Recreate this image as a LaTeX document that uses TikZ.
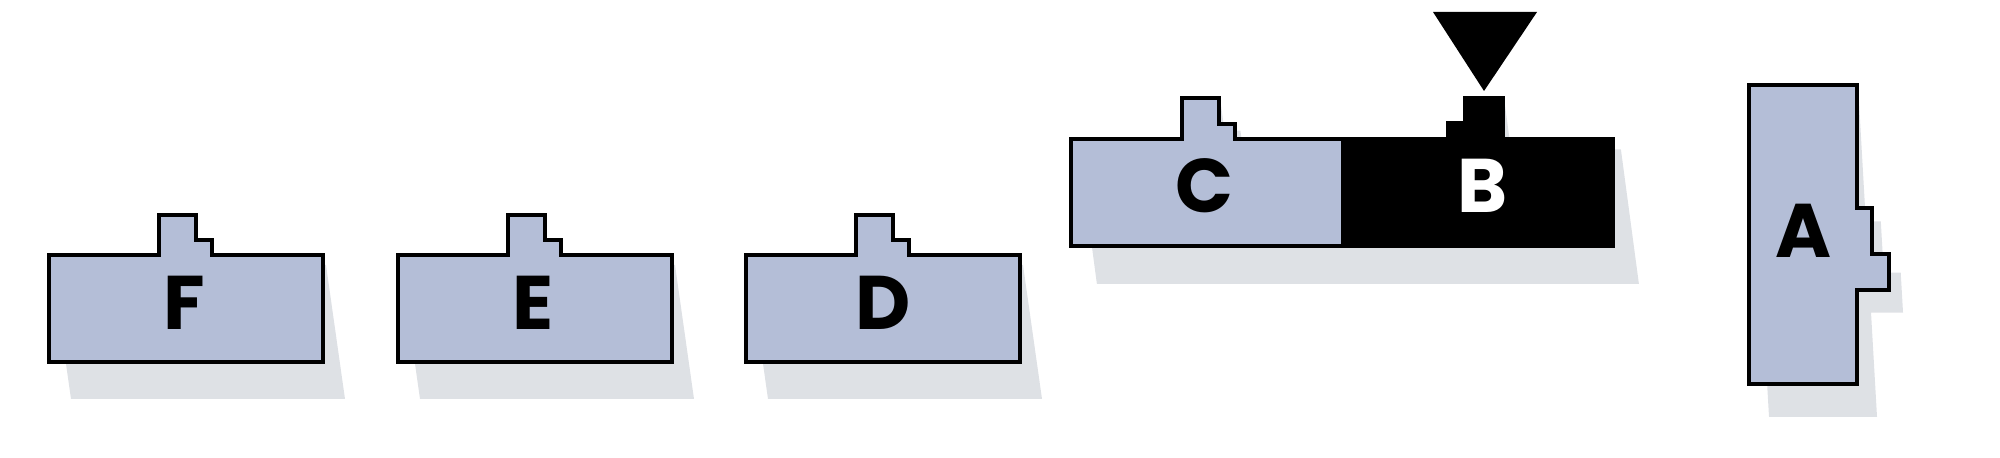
\documentclass[tikz,border=0pt]{standalone}
\usepackage{fontspec}
\newfontfamily\pop{Poppins}
\definecolor{lav}{HTML}{B4BED7}
\definecolor{shd}{HTML}{DEE1E5}
\begin{document}
\begin{tikzpicture}[x=0.5pt,y=-0.5pt,
  outl/.style={draw=black,line width=1.6pt,line join=miter},
  shadow/.style={fill=shd},
  lbl/.style={font=\pop\bfseries\fontsize{38}{38}\selectfont,inner sep=0pt,text=black}]
\useasboundingbox (0,0) rectangle (2000,458);

% F, E, D blocks
\foreach \o/\t/\lx in {0/F/184,349/E/184,697/D/186}{
  \begin{scope}[shift={(\o,0)}]
    \fill[shadow] (52,265) -- (326,265) -- (345,399) -- (71,399) -- cycle;
    \draw[outl,fill=lav] (49,255) -- (159,255) -- (159,215) -- (196,215) -- (196,240)
      -- (212,240) -- (212,255) -- (323,255) -- (323,362) -- (49,362) -- cycle;
    \node[lbl] (\t) at (\lx,302.5) {\t};
  \end{scope}
}

% C + B block shadow
\fill[shadow] (1078.9,149.5) -- (1189.9,149.5) -- (1183,98) -- (1220,98) -- (1224.4,130.7)
  -- (1240.4,130.7) -- (1242.9,149.5) -- (1455.9,149.5) -- (1453.2,129.4) -- (1470.2,129.4)
  -- (1466,98) -- (1504,98) -- (1510.9,149.5) -- (1620.9,149.5) -- (1638.9,284)
  -- (1096.9,284) -- cycle;
% C part
\fill[lav] (1071,139) -- (1182,139) -- (1182,98) -- (1219,98) -- (1219,124) -- (1235,124)
  -- (1235,139) -- (1341,139) -- (1341,246) -- (1071,246) -- cycle;
% B part
\fill[black] (1341,139) -- (1448,139) -- (1448,123) -- (1465,123) -- (1465,98) -- (1503,98)
  -- (1503,139) -- (1613,139) -- (1613,246) -- (1341,246) -- cycle;
% outline
\draw[outl] (1071,246) -- (1071,139) -- (1182,139) -- (1182,98) -- (1219,98) -- (1219,124)
  -- (1235,124) -- (1235,139) -- (1448,139) -- (1448,123) -- (1465,123) -- (1465,98)
  -- (1503,98) -- (1503,139) -- (1613,139) -- (1613,246) -- cycle;
\node[lbl] (C) at (1204,186) {C};
\node[lbl,text=white] (B) at (1483,186) {B};

% marker triangle
\fill[black] (1433,12) -- (1537,12) -- (1484,91) -- cycle;

% A block
\fill[shadow] (1750,85) -- (1858,85) -- (1865.8,221.5) -- (1880.8,221.5) -- (1883.7,272.6)
  -- (1900.7,272.6) -- (1903,312.6) -- (1871,312.6) -- (1877,417) -- (1769,417) -- cycle;
\draw[outl,fill=lav] (1749,85) -- (1857,85) -- (1857,208) -- (1872,208) -- (1872,254)
  -- (1889,254) -- (1889,290) -- (1857,290) -- (1857,384) -- (1749,384) -- cycle;
\node[lbl] (A) at (1803,230.5) {A};
\end{tikzpicture}
\end{document}
